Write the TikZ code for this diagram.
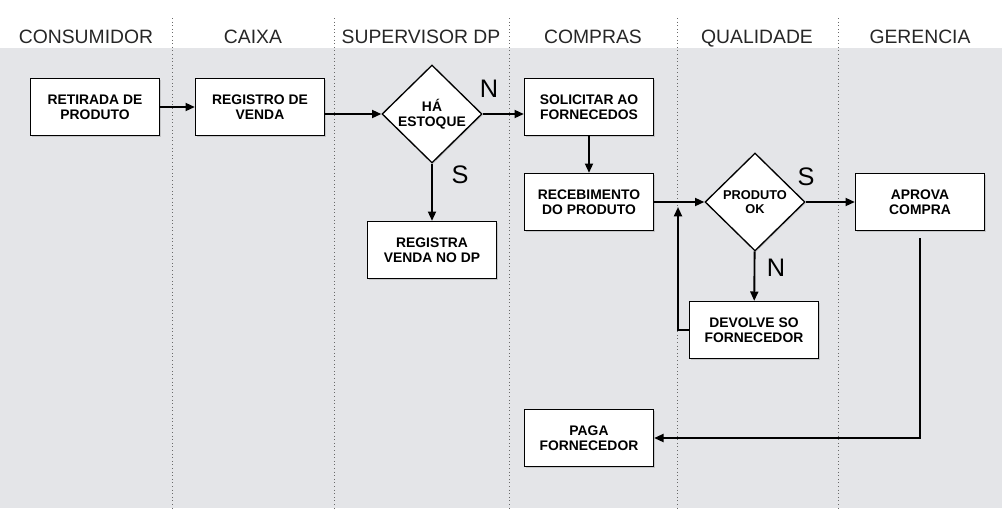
\documentclass[tikz,border=0pt]{standalone}
\usepackage{fontspec}
\setmainfont{Liberation Sans}
\usetikzlibrary{shapes.geometric,arrows.meta,shadows}
\definecolor{lanegray}{RGB}{228,229,232}
\definecolor{laneline}{RGB}{105,105,105}

\begin{document}
\begin{tikzpicture}[x=0.75pt, y=-0.75pt, line width=1.4pt,
  >={Triangle[length=7pt,width=6pt]},
  lane/.style={font=\fontsize{14.5}{17}\selectfont, text=black!85, anchor=base},
  task/.style={draw, fill=white, line width=1pt, minimum width=96.75pt, minimum height=42.75pt,
    align=center, font=\fontsize{10.4}{11.3}\selectfont\bfseries,
    drop shadow={shadow xshift=0.8pt, shadow yshift=-0.8pt, opacity=0.3}},
  decision/.style={draw, fill=white, line width=1pt, diamond, aspect=1, inner sep=0pt,
    minimum width=75pt, minimum height=73.5pt, align=center,
    drop shadow={shadow xshift=0.8pt, shadow yshift=-0.8pt, opacity=0.3}},
  answer/.style={font=\fontsize{19}{22}\selectfont}]
\useasboundingbox (0,0) rectangle (1002,508);
\fill [lanegray] (0,48) rectangle (1002,508);
\foreach \x in {172,334,509,677,838}
  \draw [laneline, dotted, line width=0.7pt] (\x,18) -- (\x,508);
% lanes
\node [lane] (hcons) at (86,43) {CONSUMIDOR};
\node [lane] (hcaixa) at (253,43) {CAIXA};
\node [lane] (hsup) at (421,43) {SUPERVISOR DP};
\node [lane] (hcomp) at (593,43) {COMPRAS};
\node [lane] (hqual) at (757,43) {QUALIDADE};
\node [lane] (hger) at (920,43) {GERENCIA};
% tasks
\node [task] (ret) at (95,107) {RETIRADA DE\\PRODUTO};
\node [task] (reg) at (260,107) {REGISTRO DE\\VENDA};
\node [decision, font=\fontsize{10.4}{11.3}\selectfont\bfseries] (estoque) at (432,114) {HÁ\\ESTOQUE};
\node [task] (regdp) at (432,250) {REGISTRA\\VENDA NO DP};
\node [task] (sol) at (589,107) {SOLICITAR AO\\FORNECEDOS};
\node [task] (rec) at (589,202) {RECEBIMENTO\\DO PRODUTO};
\node [decision, font=\fontsize{9.6}{11}\selectfont\bfseries] (prodok) at (755,202) {PRODUTO\\OK};
\node [task] (dev) at (754,330) {DEVOLVE SO\\FORNECEDOR};
\node [task] (aprova) at (920,202) {APROVA\\COMPRA};
\node [task] (paga) at (589,438) {PAGA\\FORNECEDOR};
\coordinate (volta) at (678,207);
% answers
\node [answer] (n1) at (489,89) {N};
\node [answer] (s1) at (460,175) {S};
\node [answer] (s2) at (806,177) {S};
\node [answer] (n2) at (776,268) {N};
\path [->]
(ret) edge (reg)
(reg.east |- estoque) edge (estoque.west)
(estoque.east) edge (sol.west |- estoque.east)
(estoque) edge (regdp)
(sol) edge (rec)
(rec) edge (prodok)
(prodok) edge (aprova)
(prodok) edge (dev);
\draw [->] (dev.west) -| (volta);
\draw [->, shorten <=5.25pt] (aprova.south) |- (paga.east);
\end{tikzpicture}
\end{document}
